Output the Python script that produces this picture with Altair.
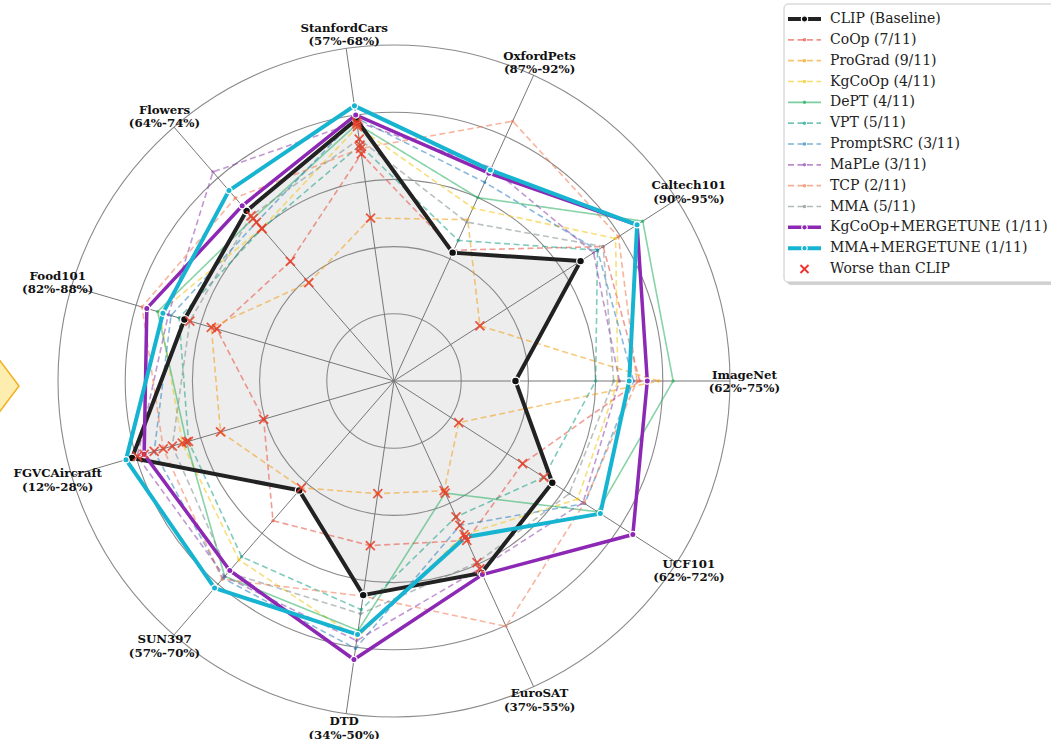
import altair as alt
import pandas as pd

# ---------------- data ----------------
AXES = ["ImageNet", "Caltech101", "OxfordPets", "StanfordCars", "Flowers", "Food101",
        "FGVCAircraft", "SUN397", "DTD", "EuroSAT", "UCF101"]
AXIS_LO = [62, 90, 87, 57, 64, 82, 12, 57, 34, 37, 62]
AXIS_HI = [75, 95, 92, 68, 74, 88, 28, 70, 50, 55, 72]

CLIP = [66.7, 93.3, 89.1, 65.65, 70.7, 85.9, 25.0, 62.6, 44.3, 48.3, 67.6]
COOP = [71.51, 93.70, 89.14, 64.51, 68.71, 85.30, 18.47, 64.15, 41.92, 46.39, 66.55]
PROGRAD = [72.24, 91.52, 89.64, 62.39, 67.87, 85.40, 20.61, 62.47, 39.42, 43.46, 64.29]
KGCOOP = [70.66, 93.92, 89.83, 65.41, 70.01, 86.36, 22.51, 66.16, 46.35, 46.04, 68.50]
DEPT = [72.8, 94.4, 90.0, 65.5, 70.4, 86.4, 22.3, 67.0, 46.0, 43.6, 69.2]
VPT = [69.8, 93.6, 89.3, 64.8, 70.0, 86.0, 22.2, 66.0, 45.0, 45.0, 67.3]
PROMPTSRC = [71.27, 93.60, 90.25, 65.70, 70.25, 86.15, 23.90, 67.10, 46.87, 45.50, 68.75]
MAPLE = [70.72, 93.53, 90.49, 65.57, 72.23, 86.20, 24.74, 67.01, 46.49, 48.06, 68.69]
TCP = [71.40, 93.97, 91.25, 64.69, 71.21, 86.69, 23.45, 67.15, 44.35, 51.45, 68.73]
MMA = [70.5, 93.7, 89.6, 65.0, 70.5, 85.8, 23.0, 66.8, 45.2, 47.7, 68.2]
KGCOOP_MT = [71.8, 94.3, 90.4, 65.8, 70.9, 86.6, 24.4, 66.7, 47.4, 48.4, 70.45]
MMA_MT = [71.1, 94.3, 90.45, 66.1, 71.5, 86.3, 25.3, 67.6, 46.2, 46.2, 69.3]

METHODS = ["CLIP (Baseline)", "CoOp", "ProGrad", "KgCoOp", "DePT", "VPT", "PromptSRC",
           "MaPLe", "TCP", "MMA", "KgCoOp+MERGETUNE", "MMA+MERGETUNE"]
SERIES = [CLIP, COOP, PROGRAD, KGCOOP, DEPT, VPT, PROMPTSRC, MAPLE, TCP, MMA, KGCOOP_MT, MMA_MT]
LEGEND_LABELS = ["CLIP (Baseline)", "CoOp (7/11)", "ProGrad (9/11)", "KgCoOp (4/11)",
                 "DePT (4/11)", "VPT (5/11)", "PromptSRC (3/11)", "MaPLe (3/11)",
                 "TCP (2/11)", "MMA (5/11)", "KgCoOp+MERGETUNE (1/11)",
                 "MMA+MERGETUNE (1/11)"]
WORSE_LABEL = "Worse than CLIP"
RINGS = [0.2, 0.4, 0.6, 0.8, 1.0]

# ---------------- styles ----------------
COLORS = ["#222222", "#e74c3c", "#f39c12", "#f1c40f", "#27ae60", "#16a085", "#2980b9",
          "#8e44ad", "#f07850", "#7f8c8d", "#8c28b4", "#17b4d2"]
DASHES = [[1, 0], [6, 3.5], [6, 3.5], [6, 3.5], [1, 0], [6, 3.5], [6, 3.5],
          [6, 3.5], [6, 3.5], [6, 3.5], [1, 0], [1, 0]]
THIN = METHODS[1:10]
CLIP_NAME = METHODS[0]
KG_MT_NAME = METHODS[10]
MMA_MT_NAME = METHODS[11]
SERIF = "DejaVu Serif"
XMARK = "M-1,-1L1,1M-1,1L1,-1"
RED = "#e8402a"

R_PX = 336.0
CX, CY = 394.0, 381.0
W, H = 1051, 739
XDOM = [-CX / R_PX, (W - CX) / R_PX]
YDOM = [-(H - CY) / R_PX, CY / R_PX]

rows = []
for m, vals in zip(METHODS, SERIES):
    for i, (a, v) in enumerate(zip(AXES, vals)):
        rows.append({"method": m, "axis": a, "idx": i, "value": v,
                     "lo": AXIS_LO[i], "hi": AXIS_HI[i], "clip": CLIP[i]})
df = pd.DataFrame(rows)

axes_df = pd.DataFrame({"axis": AXES, "idx": list(range(len(AXES))),
                        "lo": AXIS_LO, "hi": AXIS_HI})
rings_df = pd.DataFrame({"ring": RINGS})

color_scale = alt.Scale(domain=METHODS, range=COLORS)
dash_scale = alt.Scale(domain=METHODS, range=DASHES)

X = alt.X("x:Q", scale=alt.Scale(domain=XDOM, nice=False, zero=False), axis=None)
Y = alt.Y("y:Q", scale=alt.Scale(domain=YDOM, nice=False, zero=False), axis=None)

base = alt.Chart(df).transform_calculate(
    norm="(datum.value - datum.lo) / (datum.hi - datum.lo)",
    ang="datum.idx * 2 * PI / 11",
).transform_calculate(
    x="datum.norm * cos(datum.ang)",
    y="datum.norm * sin(datum.ang)",
    worse="datum.value < datum.clip && datum.method != '" + CLIP_NAME + "'",
)

order = alt.Order("idx:Q")

clip_fill = base.transform_filter(alt.datum.method == CLIP_NAME).mark_line(
    interpolate="linear-closed", fill="#c8c8c8", fillOpacity=0.32, strokeOpacity=0
).encode(x=X, y=Y, order=order)

rings = alt.Chart(rings_df).transform_calculate(
    x="0", y="0", sz="pow(2 * datum.ring * %f, 2)" % R_PX
).mark_point(shape="circle", filled=False, stroke="#8a8a8a", strokeWidth=1.1, opacity=1).encode(
    x=X, y=Y, size=alt.Size("sz:Q", scale=None, legend=None)
)

spokes = alt.Chart(axes_df).transform_calculate(
    ang="datum.idx * 2 * PI / 11"
).transform_calculate(
    x="0", y="0", x2="cos(datum.ang)", y2="sin(datum.ang)"
).mark_rule(color="#777777", strokeWidth=1).encode(x=X, y=Y, x2="x2:Q", y2="y2:Q")

thin_lines = base.transform_filter(alt.FieldOneOfPredicate(field="method", oneOf=THIN)).mark_line(
    interpolate="linear-closed", strokeWidth=1.6, opacity=0.55
).encode(
    x=X, y=Y, order=order,
    color=alt.Color("method:N", scale=color_scale, legend=None),
    strokeDash=alt.StrokeDash("method:N", scale=dash_scale, legend=None),
)
thin_pts = base.transform_filter(alt.FieldOneOfPredicate(field="method", oneOf=THIN)).mark_circle(
    size=12, opacity=0.6
).encode(x=X, y=Y, color=alt.Color("method:N", scale=color_scale, legend=None))


def thick(name, width, psize, fillc):
    sub = base.transform_filter(alt.datum.method == name)
    line = sub.mark_line(interpolate="linear-closed", strokeWidth=width).encode(
        x=X, y=Y, order=order,
        color=alt.Color("method:N", scale=color_scale, legend=None))
    pts = sub.mark_point(filled=True, size=psize, fill=fillc, stroke="white",
                         strokeWidth=1.3, opacity=1).encode(x=X, y=Y)
    return line, pts


clip_line, clip_pts = thick(CLIP_NAME, 4, 60, "#111111")
kg_line, kg_pts = thick(KG_MT_NAME, 3.5, 40, "#8c28b4")
mma_line, mma_pts = thick(MMA_MT_NAME, 4, 40, "#17b4d2")

worse_pts = base.transform_filter("datum.worse").mark_point(
    shape=XMARK, filled=False, stroke=RED, strokeWidth=1.8, size=80, opacity=0.85
).encode(x=X, y=Y)

labels = alt.Chart(axes_df).transform_calculate(
    ang="datum.idx * 2 * PI / 11",
    txt="datum.axis + '\\n(' + datum.lo + '%-' + datum.hi + '%)'",
).transform_calculate(
    x="1.043 * cos(datum.ang)", y="1.043 * sin(datum.ang)"
).mark_text(font=SERIF, fontWeight="bold", fontSize=11.8, lineBreak="\n", lineHeight=13.5,
            align="center", baseline="middle", dy=-6.5, color="#111111").encode(
    x=X, y=Y, text="txt:N")

radar = alt.layer(clip_fill, rings, spokes, thin_lines, thin_pts, clip_line, clip_pts,
                  kg_line, kg_pts, mma_line, mma_pts, worse_pts, labels)

# ---------------- legend ----------------
leg_df = pd.DataFrame({"method": METHODS, "label": LEGEND_LABELS})
worse_df = pd.DataFrame({"label": [WORSE_LABEL]})
text_df = pd.DataFrame({"label": LEGEND_LABELS + [WORSE_LABEL]})
LY = alt.Y("label:N", scale=alt.Scale(type="point", domain=LEGEND_LABELS + [WORSE_LABEL],
                                      range=[19, 269], padding=0), axis=None)
box_data = pd.DataFrame({"k": [0]})

shadow = alt.Chart(box_data).mark_rect(fill="#d2d2d2", cornerRadius=4).encode(
    x=alt.value(787), x2=alt.value(1064), y=alt.value(7), y2=alt.value(285))
box = alt.Chart(box_data).mark_rect(fill="white", stroke="#c8c8c8", strokeWidth=1,
                                    cornerRadius=4).encode(
    x=alt.value(784), x2=alt.value(1062), y=alt.value(4), y2=alt.value(282))

leg_thin_rule = alt.Chart(leg_df).transform_filter(
    alt.FieldOneOfPredicate(field="method", oneOf=THIN)).mark_rule(strokeWidth=1.6, opacity=0.6).encode(
    x=alt.value(788), x2=alt.value(821), y=LY,
    color=alt.Color("method:N", scale=color_scale, legend=None),
    strokeDash=alt.StrokeDash("method:N", scale=dash_scale, legend=None))
leg_thin_dot = alt.Chart(leg_df).transform_filter(
    alt.FieldOneOfPredicate(field="method", oneOf=THIN)).mark_circle(size=12, opacity=0.7).encode(
    x=alt.value(804.5), y=LY, color=alt.Color("method:N", scale=color_scale, legend=None))


def leg_thick(name, width, psize, fillc):
    sub = alt.Chart(leg_df).transform_filter(alt.datum.method == name)
    r = sub.mark_rule(strokeWidth=width).encode(
        x=alt.value(788), x2=alt.value(821), y=LY,
        color=alt.Color("method:N", scale=color_scale, legend=None))
    p = sub.mark_point(filled=True, size=psize, fill=fillc, stroke="white",
                       strokeWidth=1.2, opacity=1).encode(x=alt.value(804.5), y=LY)
    return r, p


lc_r, lc_p = leg_thick(CLIP_NAME, 4, 40, "#111111")
lk_r, lk_p = leg_thick(KG_MT_NAME, 3.5, 30, "#8c28b4")
lm_r, lm_p = leg_thick(MMA_MT_NAME, 4, 30, "#17b4d2")

leg_x = alt.Chart(worse_df).mark_point(shape=XMARK, filled=False, stroke="#ee3030",
                                       strokeWidth=1.8, size=64, opacity=1).encode(
    x=alt.value(804.5), y=LY)
leg_text = alt.Chart(text_df).mark_text(font=SERIF, fontSize=14, align="left",
                                        baseline="middle", color="#222222").encode(
    x=alt.value(830), y=LY, text="label:N")

legend = alt.layer(shadow, box, leg_thin_rule, leg_thin_dot, lc_r, lc_p, lk_r, lk_p,
                   lm_r, lm_p, leg_x, leg_text)

# decorative triangle at the left edge
deco = alt.Chart(box_data).mark_point(
    shape="M0,0L-1,-1.333L-1,1.333Z", filled=True, size=3600, fill="#fdeeb0",
    stroke="#f2b01e", strokeWidth=1.5, opacity=1, strokeJoin="round"
).encode(x=alt.value(19), y=alt.value(386))

chart = alt.layer(radar, alt.layer(legend, deco)).resolve_scale(
    x="independent", y="independent"
).properties(
    width=W, height=H, autosize=alt.AutoSizeParams(type="none"), padding=0,
    background="white"
).configure_view(stroke=None)

chart.save("out.html", embed_options={"renderer": "svg", "actions": False})
